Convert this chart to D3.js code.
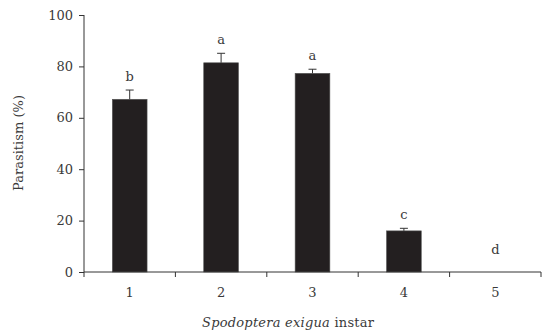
<!DOCTYPE html>
<html>
<head>
<meta charset="utf-8">
<script src="https://cdn.jsdelivr.net/npm/d3@7"></script>
<style>
  body { margin: 0; background: #fff; }
  text { font-family: "DejaVu Serif", "Liberation Serif", serif; fill: #3a3a3a; }
</style>
</head>
<body>
<div id="chart"></div>
<script>
// Data
const instars = ["1", "2", "3", "4", "5"];
const parasitism = [67.2, 81.4, 77.3, 16.0, 0];
const errors = [3.6, 3.7, 1.6, 1.0, 0];
const letters = ["b", "a", "a", "c", "d"];
const yTicks = [0, 20, 40, 60, 80, 100];

// The svg
const svg = d3.select("#chart")
  .append("svg")
  .attr("width", 546)
  .attr("height", 335);

const margin = { left: 84, right: 5, top: 15, bottom: 63 };
const width = 546 - margin.left - margin.right;
const height = 335 - margin.top - margin.bottom;

const g = svg.append("g")
  .attr("transform", "translate(" + margin.left + "," + margin.top + ")");

// Scales
const x = d3.scaleBand()
  .domain(instars)
  .range([0, width])
  .paddingInner(0.62)
  .paddingOuter(0.31);

const xTick = d3.scaleLinear().domain([0, instars.length]).range([0, width]);

const y = d3.scaleLinear()
  .domain([0, 100])
  .range([height, 0]);

// Bars
g.selectAll(".bar")
  .data(parasitism)
  .enter()
  .append("rect")
  .attr("class", "bar")
  .attr("x", function (d, i) { return x(instars[i]); })
  .attr("width", x.bandwidth())
  .attr("y", function (d) { return y(d); })
  .attr("height", function (d) { return height - y(d); })
  .attr("fill", "#231f20")
  .attr("stroke", "#555")
  .attr("stroke-width", 0.6);

// Error bars (upper half only)
const cx = function (i) { return x(instars[i]) + x.bandwidth() / 2; };
parasitism.forEach(function (d, i) {
  if (errors[i] <= 0) return;
  g.append("line")
    .attr("x1", cx(i)).attr("x2", cx(i))
    .attr("y1", y(d)).attr("y2", y(d + errors[i]))
    .attr("stroke", "#333").attr("stroke-width", 1);
  g.append("line")
    .attr("x1", cx(i) - 4).attr("x2", cx(i) + 4)
    .attr("y1", y(d + errors[i])).attr("y2", y(d + errors[i]))
    .attr("stroke", "#333").attr("stroke-width", 1);
});

// Significance letters
g.selectAll(".letter")
  .data(letters)
  .enter()
  .append("text")
  .attr("class", "letter")
  .attr("x", function (d, i) { return cx(i); })
  .attr("y", function (d, i) {
    return i === 4 ? y(parasitism[i]) - 18 : y(parasitism[i] + errors[i]) - 9;
  })
  .attr("text-anchor", "middle")
  .style("font-size", "13px")
  .text(function (d) { return d; });

// Y axis
const yAxis = g.append("g")
  .call(d3.axisLeft(y).tickValues(yTicks).tickSize(5).tickPadding(6));
yAxis.selectAll("text").style("font-size", "13px").attr("fill", "#3a3a3a");
yAxis.selectAll("line, path").attr("stroke", "#333");
yAxis.select(".domain").attr("d", "M0," + y(100) + "V" + height);

// X axis
g.append("line")
  .attr("x1", 0).attr("x2", width)
  .attr("y1", height).attr("y2", height)
  .attr("stroke", "#333");
g.selectAll(".xtick")
  .data(d3.range(instars.length + 1))
  .enter()
  .append("line")
  .attr("x1", function (d) { return xTick(d); })
  .attr("x2", function (d) { return xTick(d); })
  .attr("y1", height).attr("y2", height + 5)
  .attr("stroke", "#333");
g.selectAll(".xlabel")
  .data(instars)
  .enter()
  .append("text")
  .attr("x", function (d, i) { return cx(i); })
  .attr("y", height + 25)
  .attr("text-anchor", "middle")
  .style("font-size", "13px")
  .text(function (d) { return d; });

// Axis titles
const xTitle = svg.append("text")
  .attr("x", 288)
  .attr("y", 327)
  .attr("text-anchor", "middle")
  .attr("textLength", 172)
  .attr("lengthAdjust", "spacing")
  .style("font-size", "13px");
xTitle.append("tspan").style("font-style", "italic").text("Spodoptera exigua");
xTitle.append("tspan").text(" instar");

svg.append("text")
  .attr("transform", "translate(23,143) rotate(-90)")
  .attr("text-anchor", "middle")
  .attr("textLength", 96)
  .attr("lengthAdjust", "spacing")
  .style("font-size", "13px")
  .text("Parasitism (%)");
</script>
</body>
</html>
